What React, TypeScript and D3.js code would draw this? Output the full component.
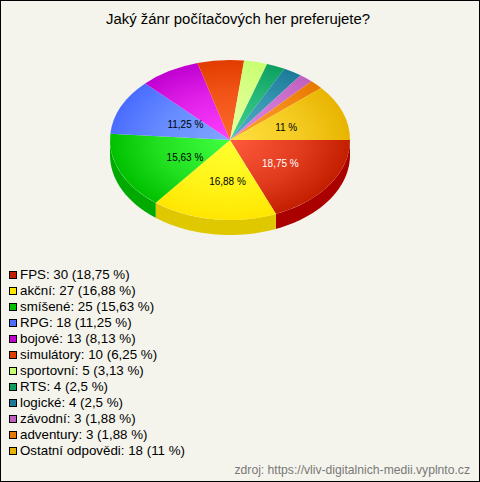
import React from "react";
import * as d3 from "d3";

const title = "Jaký žánr počítačových her preferujete?";
const source = "zdroj: https://vliv-digitalnich-medii.vyplnto.cz";
const categories = ["FPS", "akční", "smíšené", "RPG", "bojové", "simulátory", "sportovní", "RTS", "logické", "závodní", "adventury", "Ostatní odpovědi"];
const values = [30, 27, 25, 18, 13, 10, 5, 4, 4, 3, 3, 18];
const percents = ["18,75", "16,88", "15,63", "11,25", "8,13", "6,25", "3,13", "2,5", "2,5", "1,88", "1,88", "11"];
const baseColors = ["#c41e00", "#ffe600", "#00c000", "#4a6cff", "#c000d0", "#e23c00", "#c8ff70", "#0ca060", "#1a7a98", "#c060c0", "#e87800", "#e8b400"];
const lightColors = ["#ff5a3c", "#ffff30", "#40ff40", "#80a8ff", "#ff40ff", "#ff6a2c", "#e8ffa0", "#40d090", "#50b0c8", "#e088e0", "#ffa030", "#ffe040"];
const sideColors = ["#aa0000", "#e0c800", "#00aa00", "#3050e0", "#a000b0", "#c02000", "#a8e050", "#008040", "#006080", "#a040a0", "#c06000", "#e0a000"];
const labelled = [0, 1, 2, 3, 11];
const labelColors = ["#ffffff", "#000000", "#000000", "#000000", "#000000"];

const W = 480, H = 482;
const cx = 230, cy = 140, rx = 120, ry = 80, depth = 15;
const font = "Liberation Sans, Arial, sans-serif";

export default function App() {
  const total = d3.sum(values);
  const angle = d3.scaleLinear().domain([0, total]).range([0, 2 * Math.PI]);
  let acc = 0;
  const slices = values.map((v, i) => {
    const s = angle(acc);
    acc += v;
    return { i, s, e: angle(acc) };
  });
  const arc = d3.arc<any>().innerRadius(0).outerRadius(1);
  // d3 angles start at 12 o'clock; the pie starts at 3 o'clock and runs clockwise
  const off = Math.PI / 2;
  const px = (a: number) => cx + rx * Math.cos(a);
  const py = (a: number) => cy + ry * Math.sin(a);

  const sidePath = (s: number, e: number) => {
    const a0 = Math.max(s, 0), a1 = Math.min(e, Math.PI);
    if (a1 <= a0) return null;
    const n = 60;
    const pts: [number, number][] = d3.range(n + 1).map((j) => {
      const a = a0 + ((a1 - a0) * j) / n;
      return [px(a), py(a)];
    });
    const low = pts.slice().reverse().map(([x, y]) => [x, y + depth] as [number, number]);
    return d3.line()([...pts, ...low]) + "Z";
  };

  const legendY = d3.scalePoint<number>().domain(d3.range(categories.length)).range([275, 451]);

  return (
    <svg width={W} height={H} style={{ position: "absolute", left: 0, top: 0, display: "block" }} xmlns="http://www.w3.org/2000/svg">
      <defs>
        {slices.map((d) => (
          <radialGradient key={d.i} id={`g${d.i}`} gradientUnits="userSpaceOnUse" cx={0} cy={0} r={1}>
            <stop offset="0%" stopColor={lightColors[d.i]} />
            <stop offset="60%" stopColor={d3.interpolateRgb(lightColors[d.i], baseColors[d.i])(0.5)} />
            <stop offset="100%" stopColor={baseColors[d.i]} />
          </radialGradient>
        ))}
      </defs>
      <rect x={0.5} y={0.5} width={W - 1} height={H - 1} fill="#f4f4ec" stroke="#000" />
      <text x={238} y={24} textAnchor="middle" fontFamily={font} fontSize={14.9} fill="#000">{title}</text>

      {slices.map((d) => {
        const p = sidePath(d.s, d.e);
        return p ? <path key={d.i} d={p} fill={sideColors[d.i]} /> : null;
      })}
      <g transform={`translate(${cx},${cy}) scale(${rx},${ry})`}>
        {slices.map((d) => (
          <path key={d.i} d={arc({ startAngle: d.s + off, endAngle: d.e + off }) as string} fill={`url(#g${d.i})`} />
        ))}
      </g>
      {labelled.map((i, k) => {
        const mid = (slices[i].s + slices[i].e) / 2;
        return (
          <text key={i} x={cx + 5 + rx * 0.455 * Math.cos(mid)} y={cy + 1.5 + ry * 0.5 * Math.sin(mid) + 3.5} textAnchor="middle" fontFamily={font} fontSize={10} fill={labelColors[k]}>
            {percents[i]} %
          </text>
        );
      })}

      {categories.map((c, i) => {
        const y = Math.round(legendY(i) as number);
        return (
          <g key={c}>
            <rect x={9.5} y={y - 3.5} width={7} height={7} fill={baseColors[i]} stroke="#000" />
            <text x={20} y={y + 4} fontFamily={font} fontSize={13.33} fill="#000">
              {c}: {values[i]} ({percents[i]} %)
            </text>
          </g>
        );
      })}
      <text x={470} y={474} textAnchor="end" fontFamily={font} fontSize={12.15} fill="#787878">{source}</text>
    </svg>
  );
}
